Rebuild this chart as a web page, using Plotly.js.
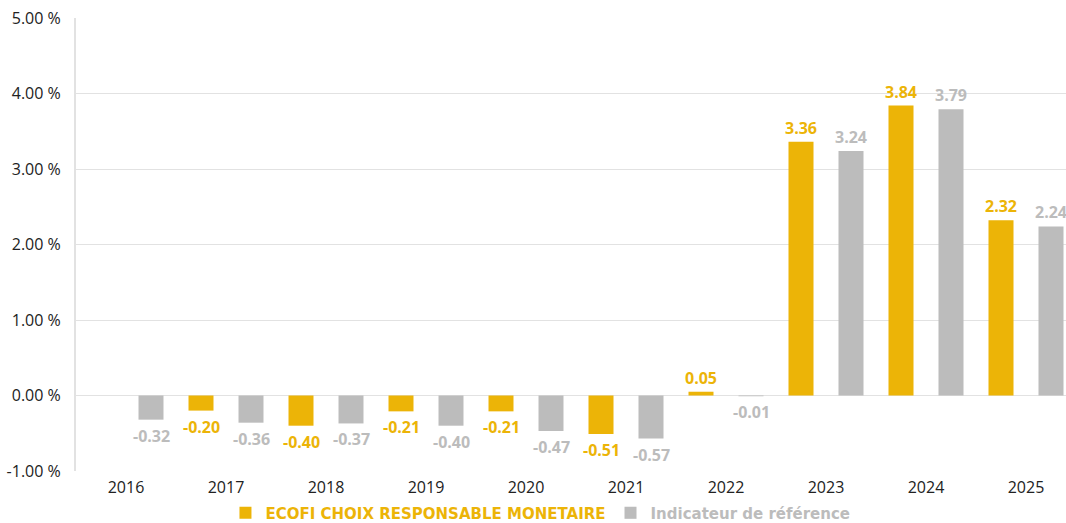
<!DOCTYPE html>
<html>
<head>
<meta charset="utf-8">
<script src="https://cdn.plot.ly/plotly-3.0.1.min.js"></script>
<style>html,body{margin:0;padding:0;background:#fff;overflow:hidden}#chart{width:1066px;height:523px}</style>
</head>
<body>
<div id="chart"></div>
<script>
const years = ['2016','2017','2018','2019','2020','2021','2022','2023','2024','2025'];
const fundValues = [null, -0.20, -0.40, -0.21, -0.21, -0.51, 0.05, 3.36, 3.84, 2.32];
const benchValues = [-0.32, -0.36, -0.37, -0.40, -0.47, -0.57, -0.01, 3.24, 3.79, 2.24];
const fundName = 'ECOFI CHOIX RESPONSABLE MONETAIRE';
const benchName = 'Indicateur de référence';
const yTicks = [-1, 0, 1, 2, 3, 4, 5];
const yTickText = ['-1.00 %', '0.00 %', '1.00 %', '2.00 %', '3.00 %', '4.00 %', '5.00 %'];

const yellow = '#ECB407';
const grey = '#BCBCBC';
const labelFont = {family: 'Open Sans', size: 16, weight: 700};

const traces = [
  {
    type: 'bar', x: years, y: fundValues,
    name: '<span style="color:' + yellow + '">' + fundName + '</span>',
    marker: {color: yellow},
    hoverinfo: 'x+y'
  },
  {
    type: 'bar', x: years, y: benchValues,
    name: '<span style="color:' + grey + '">' + benchName + '</span>',
    marker: {color: grey},
    hoverinfo: 'x+y'
  }
];

// value labels placed at each bar end (category index on the x axis), offset to the bar slot
function makeLabels(values, color, xshift) {
  const out = [];
  values.forEach((v, i) => {
    if (v === null) return;
    out.push({
      x: i, y: v, xref: 'x', yref: 'y',
      text: v.toFixed(2), showarrow: false,
      xshift: xshift, yshift: v >= 0 ? 14 : -16,
      xanchor: 'center', yanchor: 'middle',
      font: Object.assign({color: color}, labelFont)
    });
  });
  return out;
}

const layout = {
  width: 1066, height: 523,
  margin: {l: 76, r: 0, t: 18, b: 52},
  paper_bgcolor: '#fff', plot_bgcolor: '#fff',
  barmode: 'group', bargap: 0, bargroupgap: 0.5,
  font: {family: 'Open Sans', size: 16, color: '#222'},
  xaxis: {
    type: 'category', range: [-0.5, 9.4],
    showgrid: false, zeroline: false, showline: false,
    ticks: '', ticklabelstandoff: 5,
    tickfont: {family: 'Open Sans', size: 16, color: '#222'}
  },
  yaxis: {
    range: [-1, 5], tickmode: 'array', tickvals: yTicks, ticktext: yTickText,
    showgrid: true, gridcolor: '#e2e2e2', gridwidth: 1,
    zeroline: false, showline: true, linecolor: '#e2e2e2', linewidth: 2,
    ticks: '', ticklabelstandoff: 10,
    tickfont: {family: 'Open Sans', size: 16, color: '#222'}
  },
  annotations: makeLabels(fundValues, yellow, -25).concat(makeLabels(benchValues, grey, 25)),
  showlegend: true,
  legend: {
    orientation: 'h', xref: 'container', yref: 'container',
    x: 0.507, xanchor: 'center', y: 0.019, yanchor: 'middle',
    font: {family: 'DejaVu Sans', size: 15, weight: 700},
    itemsizing: 'constant', traceorder: 'normal'
  }
};

Plotly.newPlot('chart', traces, layout, {displayModeBar: false, staticPlot: true});
</script>
</body>
</html>
